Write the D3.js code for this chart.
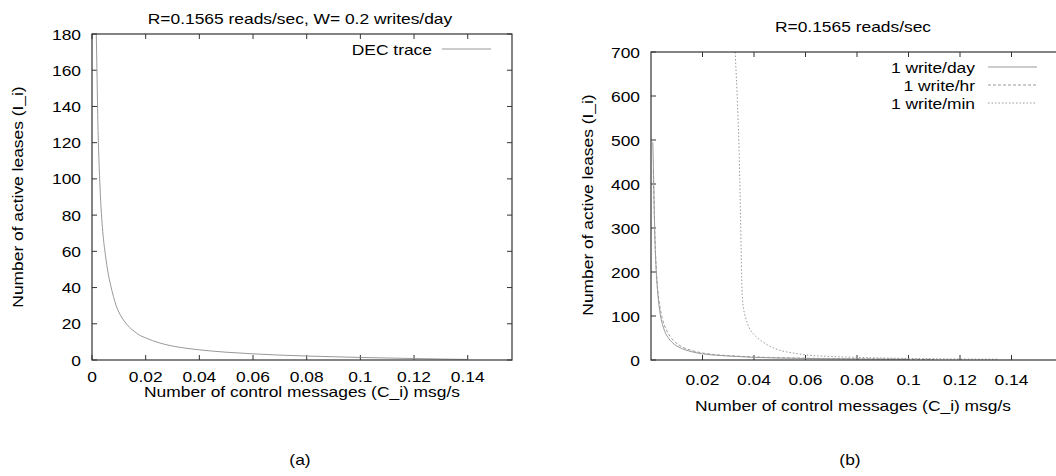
<!DOCTYPE html>
<html>
<head>
<meta charset="utf-8">
<script src="https://cdn.jsdelivr.net/npm/d3@7"></script>
<style>
  body { margin: 0; background: #fff; }
  svg text { font-family: "Liberation Sans", Arial, sans-serif; font-size: 15px; fill: #000; }
</style>
</head>
<body>
<svg id="chart" width="1056" height="476"></svg>
<script>
// panel (a): DEC trace, W = 0.2 writes/day
var decTrace = [
  [0.0016, 180], [0.0019, 155], [0.0022, 130], [0.0026, 110], [0.003, 95],
  [0.0035, 81], [0.004, 71], [0.005, 58], [0.006, 48], [0.007, 41],
  [0.008, 35], [0.009, 30], [0.01, 26.5], [0.012, 21.5], [0.014, 18],
  [0.016, 15.5], [0.018, 13.5], [0.02, 12.2], [0.025, 9.5], [0.03, 7.7],
  [0.035, 6.5], [0.04, 5.6], [0.05, 4.3], [0.06, 3.4], [0.07, 2.7],
  [0.08, 2.2], [0.09, 1.8], [0.1, 1.4], [0.11, 1.1], [0.12, 0.8],
  [0.13, 0.55], [0.14, 0.3]
];

// panel (b): three write rates
var writeDay = [
  [0.0007, 495], [0.001, 420], [0.0013, 330], [0.0016, 260], [0.002, 205],
  [0.0025, 160], [0.003, 130], [0.0037, 100], [0.0045, 80], [0.0055, 63],
  [0.007, 48], [0.009, 36], [0.012, 26], [0.015, 20], [0.02, 14],
  [0.025, 11], [0.03, 9], [0.04, 6], [0.05, 4.5], [0.06, 3.5],
  [0.08, 2.3], [0.1, 1.5]
];
var writeHr = [
  [0.0009, 430], [0.0012, 350], [0.0015, 285], [0.0019, 225], [0.0024, 175],
  [0.003, 140], [0.0038, 110], [0.0047, 88], [0.006, 68], [0.0075, 53],
  [0.0095, 40], [0.012, 30], [0.015, 23], [0.02, 16], [0.025, 12],
  [0.03, 10], [0.04, 7], [0.05, 5.2], [0.06, 4], [0.08, 2.7],
  [0.1, 1.8], [0.11, 1.5]
];
var writeMin = [
  [0.0327, 700], [0.033, 660], [0.0334, 610], [0.0338, 550], [0.0342, 480],
  [0.0345, 400], [0.0348, 320], [0.035, 250], [0.0352, 190], [0.0355, 140],
  [0.036, 115], [0.0368, 95], [0.038, 75], [0.04, 58], [0.0425, 45],
  [0.045, 35], [0.049, 24], [0.055, 16], [0.061, 11], [0.07, 8],
  [0.08, 6], [0.09, 4.5], [0.1, 3.5], [0.11, 2.8], [0.12, 2.3], [0.135, 1.8]
];

var xTicksA = [0, 0.02, 0.04, 0.06, 0.08, 0.1, 0.12, 0.14];
var xTicksB = [0.02, 0.04, 0.06, 0.08, 0.1, 0.12, 0.14];
var yTicksA = [0, 20, 40, 60, 80, 100, 120, 140, 160, 180];
var yTicksB = [0, 100, 200, 300, 400, 500, 600, 700];

var svg = d3.select('#chart');
var frameColor = '#333';
var lineColor = '#999';
var stretch = 1.16; // the reference type is a little wider than Liberation Sans

function label(g, x, y, str, anchor, rot) {
    return g.append('text')
        .attr('transform', 'translate(' + x + ',' + y + ')' + (rot ? ' rotate(-90)' : '') +
              ' scale(' + stretch + ',1)')
        .attr('text-anchor', anchor)
        .text(str);
}

function panel(opt) {
    var x = d3.scaleLinear().domain(opt.xDomain).range([opt.left, opt.right]);
    var y = d3.scaleLinear().domain(opt.yDomain).range([opt.bottom, opt.top]);
    var g = svg.append('g');

    var clipId = 'clip' + opt.id;
    g.append('clipPath').attr('id', clipId)
        .append('rect')
        .attr('x', opt.left).attr('y', opt.top)
        .attr('width', opt.right - opt.left).attr('height', opt.bottom - opt.top);

    // inward ticks on all four sides (gnuplot style)
    var tl = 5;
    var ticks = g.append('g').attr('stroke', frameColor).attr('stroke-width', 1);
    opt.xTicks.forEach(function(t) {
        ticks.append('line').attr('x1', x(t)).attr('x2', x(t)).attr('y1', opt.bottom).attr('y2', opt.bottom - tl);
        ticks.append('line').attr('x1', x(t)).attr('x2', x(t)).attr('y1', opt.top).attr('y2', opt.top + tl);
        label(g, x(t), opt.bottom + opt.xTickDy, d3.format('')(t), 'middle');
    });
    opt.yTicks.forEach(function(t) {
        ticks.append('line').attr('x1', opt.left).attr('x2', opt.left + tl).attr('y1', y(t)).attr('y2', y(t));
        ticks.append('line').attr('x1', opt.right).attr('x2', opt.right - tl).attr('y1', y(t)).attr('y2', y(t));
        label(g, opt.left - 11, y(t) + 5.5, t, 'end');
    });

    var line = d3.line()
        .x(function(d) { return x(d[0]); })
        .y(function(d) { return y(d[1]); })
        .curve(d3.curveMonotoneX);

    opt.series.forEach(function(s) {
        g.append('path')
            .datum(s.data)
            .attr('clip-path', 'url(#' + clipId + ')')
            .attr('d', line)
            .attr('fill', 'none')
            .attr('stroke', lineColor)
            .attr('stroke-width', 1)
            .attr('stroke-dasharray', s.dash);
    });

    g.append('rect')
        .attr('x', opt.left).attr('y', opt.top)
        .attr('width', opt.right - opt.left).attr('height', opt.bottom - opt.top)
        .attr('fill', 'none').attr('stroke', frameColor).attr('stroke-width', 1.2);

    // legend
    opt.series.forEach(function(s, i) {
        var ly = opt.legendY + i * 18;
        label(g, opt.legendX, ly + 5.5, s.name, 'end');
        g.append('line')
            .attr('x1', opt.legendX + opt.keyGap).attr('x2', opt.legendX + opt.keyGap + 49)
            .attr('y1', ly).attr('y2', ly)
            .attr('stroke', lineColor).attr('stroke-dasharray', s.dash);
    });

    label(g, opt.titleX, opt.titleY, opt.title, 'middle');
    label(g, opt.xLabelX, opt.xLabelY, 'Number of control messages (C_i) msg/s', 'middle');
    label(g, opt.yLabelX, opt.yLabelY, 'Number of active leases (I_i)', 'middle', true);
    label(g, opt.capX, 465, opt.caption, 'middle');
}

panel({
    id: 'a', left: 92, right: 512, top: 34, bottom: 360,
    xDomain: [0, 0.1565], yDomain: [0, 180],
    xTicks: xTicksA, yTicks: yTicksA, xTickDy: 22,
    series: [{ name: 'DEC trace', data: decTrace, dash: null }],
    legendX: 432, legendY: 49, keyGap: 10,
    title: 'R=0.1565 reads/sec, W= 0.2 writes/day', titleX: 300, titleY: 24,
    xLabelX: 302, xLabelY: 397, yLabelX: 23, yLabelY: 197,
    caption: '(a)', capX: 300
});

panel({
    id: 'b', left: 651, right: 1063, top: 52, bottom: 360,
    xDomain: [0, 0.16], yDomain: [0, 700],
    xTicks: xTicksB, yTicks: yTicksB, xTickDy: 25,
    series: [
        { name: '1 write/day', data: writeDay, dash: null },
        { name: '1 write/hr', data: writeHr, dash: '3,2' },
        { name: '1 write/min', data: writeMin, dash: '1.5,2' }
    ],
    legendX: 975, legendY: 67, keyGap: 13,
    title: 'R=0.1565 reads/sec', titleX: 853, titleY: 32,
    xLabelX: 853, xLabelY: 411, yLabelX: 593, yLabelY: 205,
    caption: '(b)', capX: 850
});
</script>
</body>
</html>
